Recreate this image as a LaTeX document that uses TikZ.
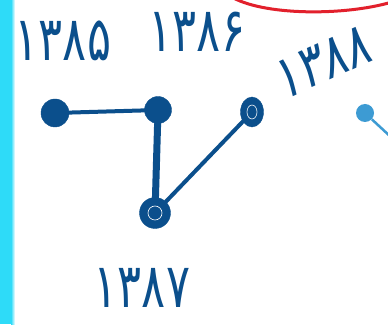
\documentclass[tikz,border=0pt]{standalone}
\usepackage{fontspec}
\usetikzlibrary{shapes.geometric}
\newfontfamily\fa{DejaVu Sans}
\definecolor{ink}{HTML}{0B4F8C}
\definecolor{cyanbar}{HTML}{2EDBF8}
\definecolor{redink}{HTML}{E2202C}
\definecolor{lightink}{HTML}{3D9BD3}
\begin{document}
\begin{tikzpicture}[x=1pt,y=1pt,
  dot/.style={circle,fill=ink,draw=ink,inner sep=0pt},
  year/.style={text=ink,font=\fa\fontsize{56}{60}\selectfont,inner sep=0pt,xscale=0.8,yscale=1.1,transform shape},
  edge/.style={draw=ink,line width=4pt,line cap=round}]
\useasboundingbox (0,0) rectangle (388,324);
\fill[white] (0,0) rectangle (388,324);
\fill[cyanbar] (0,0) rectangle (11,324);
\shade[left color=cyanbar,right color=white] (11,0) rectangle (15,324);
\draw[redink,line width=3pt] (230,328) .. controls (262,308) and (345,308) .. (392,322);
% labels
\node[year] (t1) at (63,283) {۱۳۸۵};
\node[year] (t2) at (197,292) {۱۳۸۶};
\node[year,rotate=18] (t3) at (324,262) {۱۳۸۸};
\node[year] (t4) at (142,36) {۱۳۸۷};
% nodes
\node[dot,minimum size=28pt] (n1) at (55,211) {};
\node[dot,minimum size=27pt] (n2) at (158,214) {};
\node[dot,ellipse,minimum width=23pt,minimum height=30pt] (n3) at (252,212) {};
\node[dot,minimum size=31pt] (n4) at (155,111) {};
\draw[white,line width=0.6pt] (n3.center) circle[x radius=5pt,y radius=7pt];
\draw[white,line width=0.6pt] (n4.center) circle[radius=7pt];
% edges
\draw[edge] (n1) -- (n2);
\draw[edge,line width=7pt] (n2) -- (n4);
\draw[edge] (n4) -- (n3);
% partial light node
\node[circle,fill=lightink,inner sep=0pt,minimum size=18pt] (n5) at (365,211) {};
\coordinate (e5) at (392,186);
\draw[lightink,line width=2.5pt] (n5) -- (e5);
\end{tikzpicture}
\end{document}
